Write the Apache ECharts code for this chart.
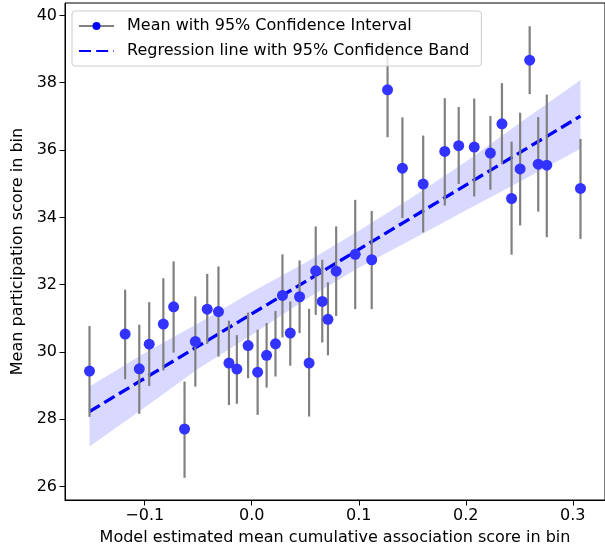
<!DOCTYPE html>
<html>
<head>
<meta charset="utf-8">
<script src="https://cdn.jsdelivr.net/npm/echarts@6/dist/echarts.min.js"></script>
<style>html,body{margin:0;padding:0;background:#fff}#c{width:605px;height:552px}</style>
</head>
<body>
<div id="c"></div>
<script>
// Bin means (x) and mean participation score with 95% CI
var xVals = [-0.1516,-0.1183,-0.1051,-0.0958,-0.0826,-0.0730,-0.0628,-0.0527,-0.0416,-0.0311,-0.0213,-0.0139,-0.0034,0.0055,0.0139,0.0222,0.0287,0.0360,0.0447,0.0536,0.0598,0.0659,0.0712,0.0789,0.0967,0.1121,0.1269,0.1408,0.1602,0.1804,0.1934,0.2079,0.2230,0.2338,0.2428,0.2508,0.2597,0.2677,0.2757,0.3072];
var means = [29.43,30.53,29.50,30.23,30.83,31.34,27.71,30.31,31.27,31.20,29.67,29.49,30.19,29.40,29.90,30.24,31.68,30.56,31.64,29.67,32.41,31.50,30.97,32.40,32.90,32.74,37.79,35.46,34.99,35.96,36.13,36.09,35.91,36.78,34.56,35.44,38.67,35.58,35.55,34.86];
var ciLow = [28.07,29.19,28.16,28.99,29.45,29.98,26.26,28.97,30.24,29.86,28.42,28.46,29.22,28.13,28.94,29.27,30.43,29.59,30.56,28.08,31.10,30.28,29.90,31.07,31.27,31.27,36.38,33.98,33.55,34.35,34.99,34.62,34.82,35.58,32.89,33.76,37.66,34.17,33.41,33.36];
var ciHigh = [30.77,31.85,30.81,31.48,32.19,32.69,29.12,31.65,32.32,32.54,30.93,30.50,31.17,30.66,30.86,31.22,32.90,31.50,32.72,31.28,33.73,32.74,32.07,33.73,34.52,34.19,39.20,36.97,36.43,37.54,37.28,37.53,37.01,37.99,36.25,37.11,39.68,36.98,37.65,36.33];
// Regression line endpoints
var lineX = [-0.1516, 0.3072];
var lineY = [28.23, 37.01];
// Confidence band
var bandX = [-0.1516,-0.1,-0.05,0.0,0.05,0.1,0.15,0.2,0.25,0.3072];
var bandUpper = [28.97,29.97,30.85,31.78,32.65,33.60,34.60,35.65,36.80,38.08];
var bandLower = [27.19,28.35,29.50,30.50,31.55,32.50,33.35,34.20,35.05,36.04];
// Ticks
var xTicks = [-0.1,0.0,0.1,0.2,0.3];
var yTicks = [26,28,30,32,34,36,38,40];

var NAME_MEAN = 'Mean with 95% Confidence Interval';
var NAME_REG = 'Regression line with 95% Confidence Band';
var FONT = 'DejaVu Sans';
var FS = 16;

var pts = xVals.map(function(x,i){return [x, means[i]];});
var bars = xVals.map(function(x,i){return [x, ciLow[i], ciHigh[i]];});
var reg = lineX.map(function(x,i){return [x, lineY[i]];});

var chart = echarts.init(document.getElementById('c'), null, {renderer:'canvas'});
chart.setOption({
  animation:false,
  textStyle:{fontFamily:FONT},
  grid:{left:65, top:3, bottom:52, right:-6.4, show:true, borderColor:'#000', borderWidth:1, backgroundColor:'transparent'},
  xAxis:{
    type:'value', min:-0.1745, max:0.3301,
    name:'Model estimated mean cumulative association score in bin',
    nameLocation:'middle', nameGap:30,
    nameTextStyle:{fontSize:FS, color:'#000', fontFamily:FONT},
    axisLine:{show:true, onZero:false, lineStyle:{color:'#000', width:1}},
    axisTick:{show:true, length:5.5, lineStyle:{color:'#000'}, customValues:xTicks},
    axisLabel:{fontSize:FS, color:'#000', margin:8, customValues:xTicks, fontFamily:FONT,
      formatter:function(v){return (v<-1e-9?'\u2212':'') + Math.abs(v).toFixed(1);}},
    splitLine:{show:false}
  },
  yAxis:{
    type:'value', min:25.6, max:40.37,
    name:'Mean participation score in bin',
    nameLocation:'middle', nameGap:38,
    nameTextStyle:{fontSize:FS, color:'#000', fontFamily:FONT},
    axisLine:{show:true, onZero:false, lineStyle:{color:'#000', width:1}},
    axisTick:{show:true, length:5.5, lineStyle:{color:'#000'}, customValues:yTicks},
    axisLabel:{fontSize:FS, color:'#000', margin:8, customValues:yTicks, fontFamily:FONT,
      formatter:function(v){return String(Math.round(v));}},
    splitLine:{show:false}
  },
  legend:{
    left:72, top:11, orient:'vertical',
    itemWidth:35, itemHeight:10, itemGap:9,
    padding:[7,12,7,6],
    backgroundColor:'rgba(255,255,255,0.8)', borderColor:'#cccccc', borderWidth:1, borderRadius:3,
    textStyle:{fontSize:FS, color:'#000', fontFamily:FONT, padding:[0,0,0,8]},
    data:[
      {name:NAME_MEAN, lineStyle:{color:'#808080', width:2, opacity:1}, itemStyle:{color:'#0000ff'}},
      {name:NAME_REG, itemStyle:{opacity:0}}
    ]
  },
  series:[
    {
      type:'custom', name:'band', silent:true, z:1,
      data:[[0,30]],
      renderItem:function(params, api){
        var ptsPoly = [];
        for (var i=0;i<bandX.length;i++) ptsPoly.push(api.coord([bandX[i], bandUpper[i]]));
        for (var j=bandX.length-1;j>=0;j--) ptsPoly.push(api.coord([bandX[j], bandLower[j]]));
        return {type:'polygon', shape:{points:ptsPoly}, style:{fill:'rgba(0,0,255,0.15)', stroke:null}};
      }
    },
    {
      type:'line', name:NAME_REG, z:2, data:reg, symbol:'none',
      lineStyle:{color:'#0000ff', width:3.3, type:[12,5.2]},
      itemStyle:{color:'#0000ff'}
    },
    {
      type:'custom', name:'errbars', z:3, silent:true,
      data:bars,
      encode:{x:0, y:[1,2]},
      renderItem:function(params, api){
        var p1 = api.coord([api.value(0), api.value(1)]);
        var p2 = api.coord([api.value(0), api.value(2)]);
        return {type:'line', shape:{x1:p1[0], y1:p1[1], x2:p2[0], y2:p2[1]}, style:{stroke:'#808080', lineWidth:2.2}};
      }
    },
    {
      type:'line', name:NAME_MEAN, z:4, data:pts,
      symbol:'circle', symbolSize:11,
      lineStyle:{width:0, opacity:0, color:'#808080'},
      itemStyle:{color:'#3333ff', borderWidth:0}
    }
  ]
});
</script>
</body>
</html>
